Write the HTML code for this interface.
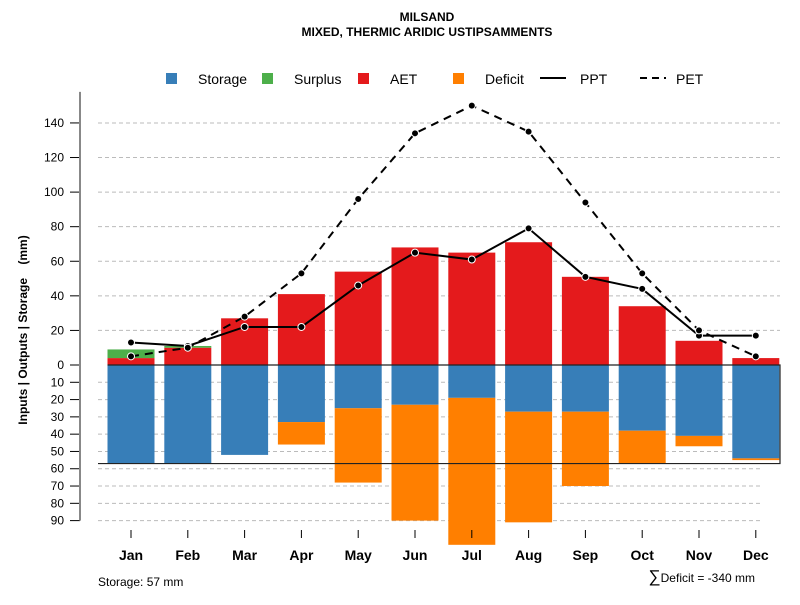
<!DOCTYPE html>
<html><head><meta charset="utf-8"><style>
body{margin:0;background:#fff}
svg{font-family:"Liberation Sans",Arial,sans-serif}
</style></head><body>
<svg id="c" width="800" height="600" xmlns="http://www.w3.org/2000/svg">
<text x="427" y="21" font-size="12" font-weight="bold" text-anchor="middle">MILSAND</text>
<text x="427" y="36" font-size="12" font-weight="bold" text-anchor="middle">MIXED, THERMIC ARIDIC USTIPSAMMENTS</text>
<g font-size="14">
<rect x="166" y="73" width="11" height="11" fill="#377eb8"/><text x="198" y="84">Storage</text>
<rect x="262" y="73" width="11" height="11" fill="#4daf4a"/><text x="294" y="84">Surplus</text>
<rect x="358" y="73" width="11" height="11" fill="#e41a1c"/><text x="390" y="84">AET</text>
<rect x="453" y="73" width="11" height="11" fill="#ff7f00"/><text x="485" y="84">Deficit</text>
<line x1="540" y1="78" x2="566" y2="78" stroke="#000" stroke-width="2"/><text x="580" y="84">PPT</text>
<line x1="640" y1="78" x2="666" y2="78" stroke="#000" stroke-width="2" stroke-dasharray="7,5"/><text x="676" y="84">PET</text>
</g>
<text transform="translate(27,330) rotate(-90)" font-size="12" font-weight="bold" text-anchor="middle" style="white-space:pre" xml:space="preserve">Inputs | Outputs | Storage    (mm)</text>
<text x="98" y="586" font-size="12">Storage: 57 mm</text>
<text x="755" y="582" font-size="12" text-anchor="end"><tspan font-size="17">∑</tspan>Deficit = -340 mm</text>
<g id="g"></g>
</svg>
<script>
const months=["Jan","Feb","Mar","Apr","May","Jun","Jul","Aug","Sep","Oct","Nov","Dec"];
const aet=[4,10,27,41,54,68,65,71,51,34,14,4];
const surplus=[5,1,0,0,0,0,0,0,0,0,0,0];
const ppt=[13,11,22,22,46,65,61,79,51,44,17,17];
const pet=[5,10,28,53,96,134,150,135,94,53,20,5];
const storage=[57,57,52,33,25,23,19,27,27,38,41,54];
const deficit=[0,0,0,13,43,67,85,64,43,19,6,1];
const storageMax=57;
const posTicks=[20,40,60,80,100,120,140];
const negTicks=[10,20,30,40,50,60,70,80,90];
const NS="http://www.w3.org/2000/svg";
const g=document.getElementById('g');
const y0=365,k=1.729;
const yv=v=>y0-v*k;
const xm=i=>131+i*56.8;
const bw=47;
function mk(t,a){const e=document.createElementNS(NS,t);for(const n in a)e.setAttribute(n,a[n]);g.appendChild(e);return e;}
posTicks.forEach(t=>{
let l=mk('line',{x1:98,x2:780,y1:yv(t),y2:yv(t),stroke:'#bbb','stroke-dasharray':'4,3'});


let tk=mk('line',{x1:70,x2:80,y1:yv(t),y2:yv(t),stroke:'#000'});


let tx=mk('text',{x:64,y:yv(t)+4,'font-size':12,'text-anchor':'end'});tx.textContent=t;


});
[0].concat(negTicks).forEach(t=>{
let y=yv(-t);
if(t>0){let l=mk('line',{x1:98,x2:760,y1:y,y2:y,stroke:'#bbb','stroke-dasharray':'4,3'});

}
let tk=mk('line',{x1:70,x2:80,y1:y,y2:y,stroke:'#000'});


let tx=mk('text',{x:64,y:y+4,'font-size':12,'text-anchor':'end'});tx.textContent=t;


});
let ax=mk('line',{x1:80,x2:80,y1:yv(158),y2:yv(-90),stroke:'#888','stroke-width':2});


months.forEach((m,i)=>{
const x=xm(i)-bw/2;
let r=mk('rect',{x:x,y:yv(aet[i]),width:bw,height:aet[i]*k,fill:'#e41a1c'});


if(surplus[i]>0){let s=mk('rect',{x:x,y:yv(aet[i]+surplus[i]),width:bw,height:surplus[i]*k,fill:'#4daf4a'});

}
let st=mk('rect',{x:x,y:y0,width:bw,height:storage[i]*k,fill:'#377eb8'});


if(deficit[i]>0){let d=mk('rect',{x:x,y:yv(-storage[i]),width:bw,height:deficit[i]*k,fill:'#ff7f00'});

}
let tk=mk('line',{x1:xm(i),x2:xm(i),y1:530,y2:538,stroke:'#000'});


let tx=mk('text',{x:xm(i),y:560,'font-size':14,'font-weight':'bold','text-anchor':'middle'});tx.textContent=m;


});
let box=mk('path',{d:`M${xm(0)-bw/2},${y0} H780 V${yv(-storageMax)} H98`,fill:'none',stroke:'#222','stroke-width':1.2});


let pl=mk('polyline',{points:ppt.map((v,i)=>xm(i)+','+yv(v)).join(' '),fill:'none',stroke:'#000','stroke-width':2});


let pe=mk('polyline',{points:pet.map((v,i)=>xm(i)+','+yv(v)).join(' '),fill:'none',stroke:'#000','stroke-width':2,'stroke-dasharray':'8,6'});


ppt.forEach((v,i)=>{let c=mk('circle',{cx:xm(i),cy:yv(v),r:3.5,fill:'#000',stroke:'#fff','stroke-width':1});

});
pet.forEach((v,i)=>{let c=mk('circle',{cx:xm(i),cy:yv(v),r:3.5,fill:'#000',stroke:'#fff','stroke-width':1});

});
</script>
</body></html>
